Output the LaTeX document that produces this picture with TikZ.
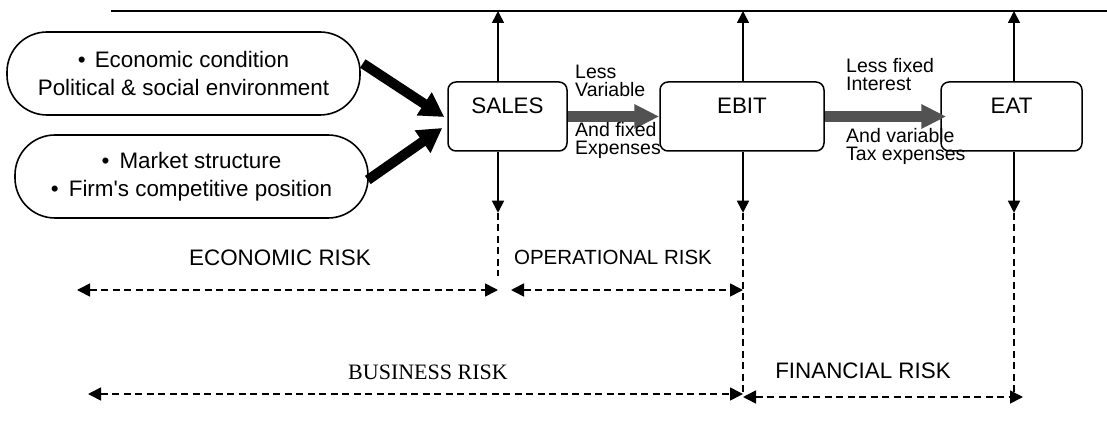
\documentclass[tikz,border=0pt]{standalone}
\usepackage{fontspec}
\setmainfont{Liberation Sans}
\newfontfamily\timesrm{Liberation Serif}
\usepackage{tikz}
\usetikzlibrary{calc,arrows.meta}

\begin{document}
\begin{tikzpicture}[x=1pt,y=-1pt,
    capsule/.style={draw,line width=1.6pt,rounded corners=40pt,minimum width=353pt,minimum height=83pt,inner sep=0pt,align=center,font=\fontsize{22.4}{28.5}\selectfont},
    stage/.style={draw,line width=1.5pt,rounded corners=8pt,minimum height=69pt,inner sep=0pt,text height=16pt,text depth=21pt,font=\fontsize{22.4}{26}\selectfont},
    note/.style={inner sep=0pt,align=left,font=\fontsize{19.5}{18}\selectfont},
    risk/.style={inner sep=0pt,font=\fontsize{22.4}{26}\selectfont},
    stem/.style={line width=1.6pt,-{Triangle[length=12pt,width=12pt]}},
    guide/.style={line width=1.6pt,dash pattern=on 7pt off 4.5pt},
    span/.style={line width=1.6pt,dash pattern=on 7pt off 4.5pt,{Triangle[length=13pt,width=13pt]}-{Triangle[length=13pt,width=13pt]}},
    bigarrow/.style={line width=10pt,-{Triangle[length=24pt,width=26pt]}},
    flowarrow/.style={line width=11pt,draw=black!68,-{Triangle[length=25pt,width=23pt]}}]
  \useasboundingbox (0,0) rectangle (1107,427);

  \coordinate (T1) at (111,11);
  \coordinate (T2) at (1107,11);
  \draw[line width=1.8pt] (T1)--(T2);

  \node[capsule] (econ) at (183.5,73.5) {\textbullet\hspace{0.4em}Economic condition\\Political \& social environment};
  \node[capsule] (market) at (191.5,176.5) {\textbullet\hspace{0.45em}Market structure\\\textbullet\hspace{0.45em}Firm\textquotesingle s competitive position};

  \node[stage,minimum width=119pt] (sales) at (507.5,116.5) {SALES};
  \node[stage,minimum width=164pt] (ebit) at (742,116.5) {EBIT};
  \node[stage,minimum width=141pt] (eat) at (1011.5,116.5) {EAT};

  \draw[bigarrow] ($(econ.east)+(2,-10)$) -- ($(sales.west)+(-3,0.5)$);
  \draw[bigarrow] ($(market.east)+(-1,3.5)$) -- ($(sales.west)+(-5,11.5)$);

  \draw[flowarrow] (sales.east) -- (ebit.west);
  \draw[flowarrow] (ebit.east) -- ($(eat.west)+(6,0)$);

  \node[note,anchor=north west] (less1) at (575,65) {Less\\Variable};
  \node[note,anchor=north west] (and1) at (575,122) {And fixed\\Expenses};
  \node[note,anchor=north west] (less2) at (846,58) {Less fixed\\Interest};
  \node[note,anchor=north west] (and2) at (846,128) {And variable\\Tax expenses};

  \coordinate (up1) at ($(sales.north)+(-9.5,0)$);
  \coordinate (dn1) at ($(sales.south)+(-9.5,0)$);
  \coordinate (up2) at ($(ebit.north)+(1,0)$);
  \coordinate (dn2) at ($(ebit.south)+(1,0)$);
  \coordinate (up3) at ($(eat.north)+(2.5,0)$);
  \coordinate (dn3) at ($(eat.south)+(2.5,0)$);
  \foreach \i in {1,2,3}{
    \draw[stem] (up\i) -- (up\i |- T1);
    \draw[stem] (dn\i) -- ++(0,61) coordinate (end\i);
  }
  \draw[guide] (end1) -- ++(0,63);
  \draw[guide] (end2) -- ++(0,182);
  \draw[guide] (end3) -- ++(0,181);

  \coordinate (E1) at (77,290);
  \coordinate (E2) at (498,290);
  \coordinate (O1) at (511,290);
  \coordinate (O2) at (743,290);
  \coordinate (B1) at (88,394);
  \coordinate (B2) at (743,394);
  \coordinate (F1) at (743,397);
  \coordinate (F2) at (1023,397);
  \draw[span] (E1) -- (E2);
  \draw[span] (O1) -- (O2);
  \draw[span] (B1) -- (B2);
  \draw[span] (F1) -- (F2);

  \node[risk,anchor=base] (econrisk) at (280,266) {ECONOMIC RISK};
  \node[risk,anchor=base,font=\fontsize{20.5}{24}\selectfont] (operrisk) at (613,265) {OPERATIONAL RISK};
  \node[risk,anchor=base,font=\fontsize{22}{26}\selectfont\timesrm] (busrisk) at (428,379) {BUSINESS RISK};
  \node[risk,anchor=base] (finrisk) at (863,378) {FINANCIAL RISK};
\end{tikzpicture}
\end{document}
